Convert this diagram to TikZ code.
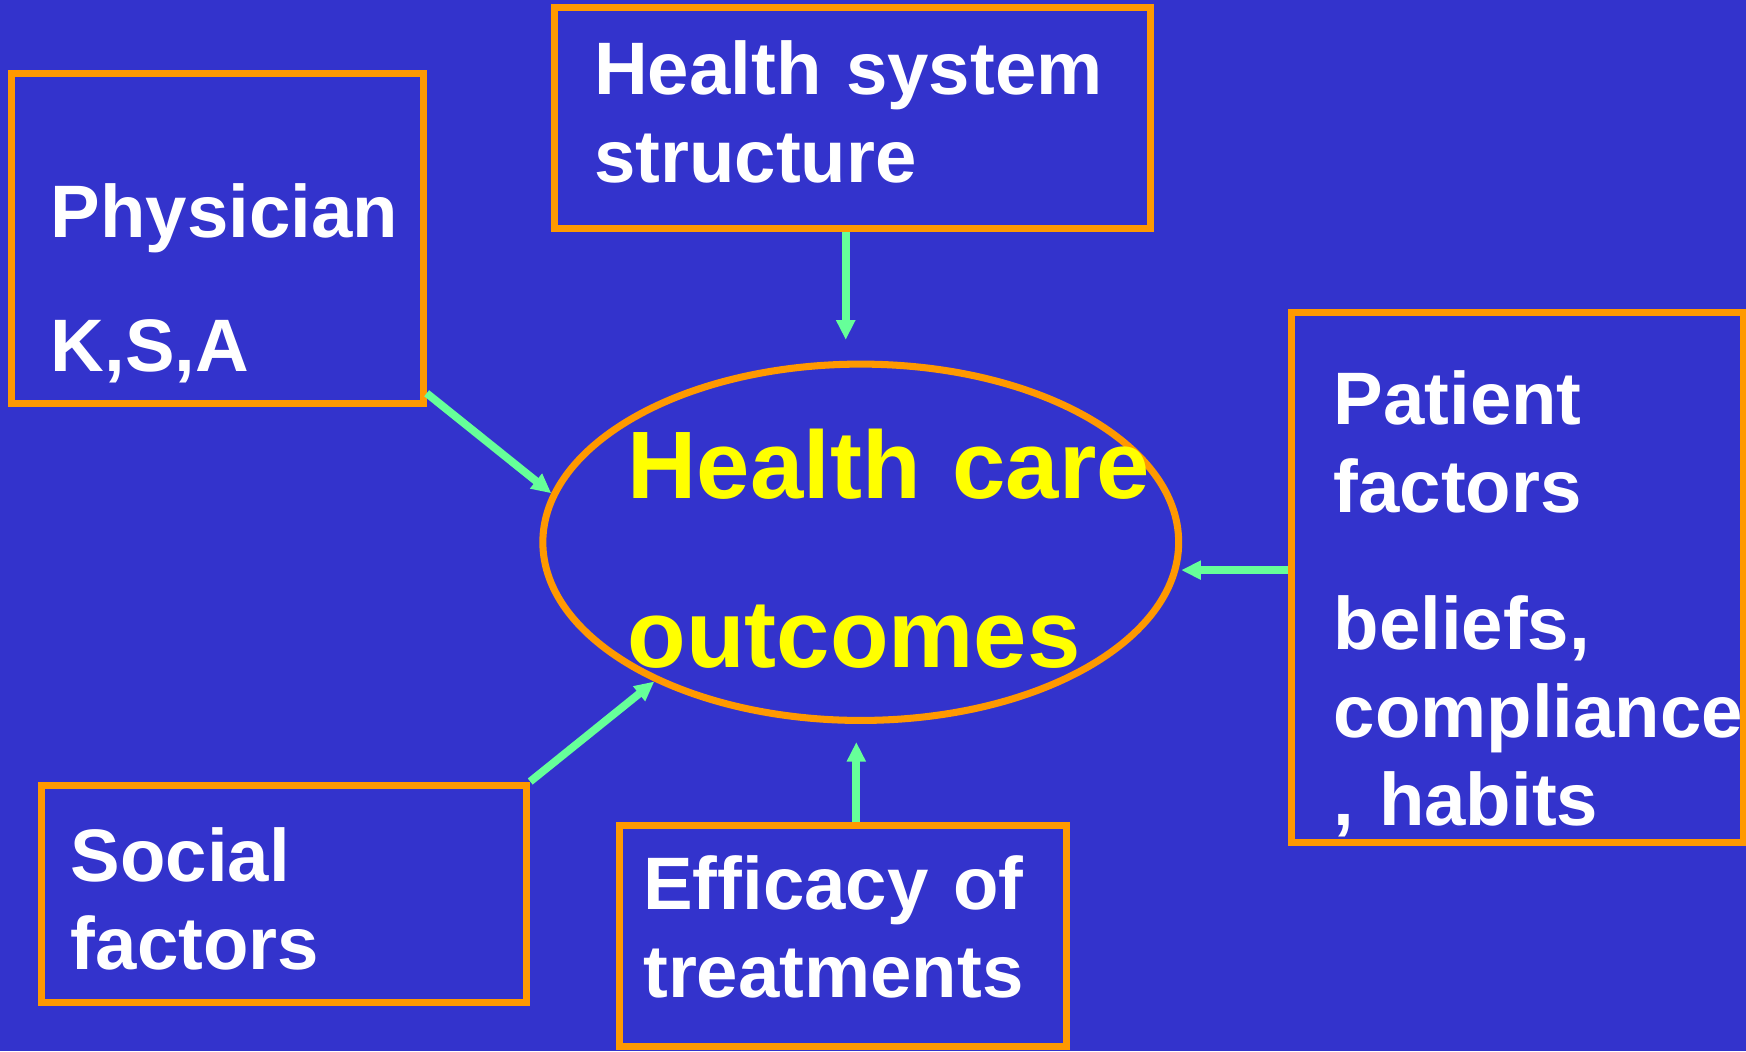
\documentclass[tikz,border=0pt]{standalone}
\usepackage{fontspec}
\setmainfont{Liberation Sans}
\usetikzlibrary{arrows.meta, shapes.geometric, positioning}
\definecolor{slide}{RGB}{51,51,204}
\definecolor{frame}{RGB}{255,153,0}
\definecolor{flowgreen}{RGB}{102,255,153}
\definecolor{hilite}{RGB}{255,255,0}
\tikzset{>={Triangle[length=5pt,width=4.6pt]}}

\begin{document}
\begin{tikzpicture}[
  factor/.style={draw=frame, line width=1.8pt, inner sep=0pt},
  words/.style={anchor=base west, inner sep=0pt, text=white, text width=5cm, align=left,
    font=\fontsize{19}{22.5}\selectfont\bfseries},
  flow/.style={->, draw=flowgreen, line width=2pt}]
  \fill[slide] (0,0) rectangle (15.68,9.44);
  \useasboundingbox (0,0) rectangle (15.68,9.44);

  % boxes
  \node[factor, minimum width=3.70cm, minimum height=2.96cm] (phys) at (1.95,7.30) {};
  \node[factor, minimum width=5.35cm, minimum height=1.98cm] (hs)   at (7.655,8.38) {};
  \node[factor, minimum width=4.06cm, minimum height=4.76cm] (pat)  at (13.63,4.25) {};
  \node[factor, minimum width=4.36cm, minimum height=1.95cm] (soc)  at (2.55,1.415) {};
  \node[factor, minimum width=4.02cm, minimum height=1.99cm] (eff)  at (7.57,1.035) {};
  \node[factor, ellipse, minimum width=5.71cm, minimum height=3.20cm] (hco) at (7.73,4.57) {};

  % texts
  \node[words] (phys-txt) at (0.45,7.31) {Physician\\[11.7pt]K,S,A};
  \node[words] (hs-txt)   at (5.33,8.59) {Health system\\structure};
  \node[words] (pat-txt)  at (11.97,5.63) {Patient\\factors\\[12.5pt]beliefs,\\compliance\\, habits};
  \node[words] (soc-txt)  at (0.63,1.52) {Social\\factors};
  \node[words] (eff-txt)  at (5.77,1.27) {Efficacy of\\treatments};
  \node[words, text=hilite, font=\fontsize{24.5}{43.2}\selectfont\bfseries] (hco-txt) at (5.63,4.96) {Health care\\outcomes};

  % arrows
  \draw[flow] ([yshift=0.12cm]phys.south east) -- (hco.171);
  \draw[flow] ([xshift=-0.06cm]hs.south) -- ++(0,-0.97);
  \draw[flow] ([yshift=0.07cm]pat.west) -- ++(-0.96,0);
  \draw[flow] (soc.north east) -- (hco.214);
  \draw[flow, shorten >=3pt] ([xshift=0.12cm]eff.north) -- ++(0,0.82);
\end{tikzpicture}
\end{document}
